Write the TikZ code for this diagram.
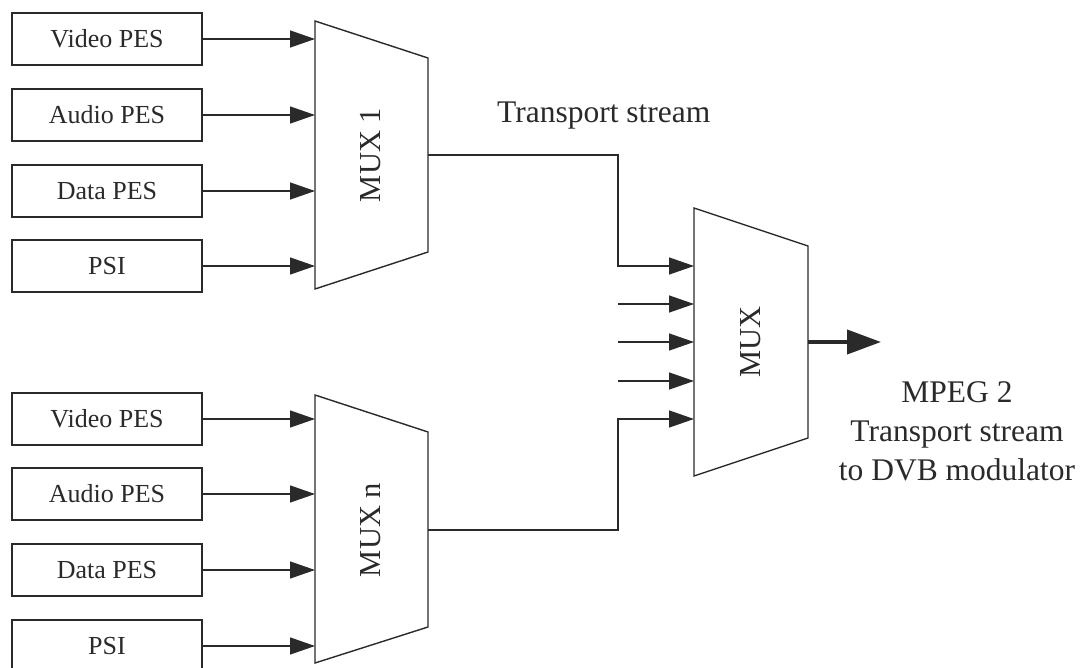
\documentclass[tikz,border=0pt]{standalone}
\usepackage{fontspec}
\setmainfont{Liberation Serif}
\usetikzlibrary{arrows.meta}
\definecolor{ink}{HTML}{2A2A2A}
\begin{document}
\begin{tikzpicture}[x=1pt,y=-1pt,
  every node/.style={text=ink},
  srcbox/.style={draw=ink,line width=1.4pt,minimum width=190pt,minimum height=52pt,inner sep=0pt,font=\fontsize{26}{30}\selectfont},
  muxshape/.style={draw=ink,line width=1.4pt,fill=white},
  arr/.style={draw=ink,line width=1.4pt,-{Triangle[length=25pt,width=17pt]}},
  link/.style={draw=ink,line width=1.4pt},
  bigarr/.style={draw=ink,line width=4pt,-{Triangle[length=34pt,width=24pt]}},
  muxlabel/.style={rotate=90,font=\fontsize{30.5}{34}\selectfont,inner sep=0pt},
  lbl/.style={font=\fontsize{31.5}{39}\selectfont,inner sep=0pt}]
\useasboundingbox (0,0) rectangle (1084,668);

% MUX 1 shape
\draw[muxshape] (315,21) -- (428,58) -- (428,252) -- (315,289) -- cycle;
\node[muxlabel] (mux1) at (371,155) {MUX 1};
% MUX n shape
\draw[muxshape] (315,395) -- (428,432) -- (428,627) -- (315,663) -- cycle;
\node[muxlabel] (muxn) at (371,530) {MUX n};
% final MUX shape
\draw[muxshape] (694,208) -- (808,246) -- (808,438) -- (694,476) -- cycle;
\node[muxlabel] (mux) at (751,342) {MUX};

% sources top
\node[srcbox] (v1) at (107,39) {Video PES};
\node[srcbox] (a1) at (107,115) {Audio PES};
\node[srcbox] (d1) at (107,191) {Data PES};
\node[srcbox] (p1) at (107,266) {PSI};
% sources bottom
\node[srcbox] (v2) at (107,419) {Video PES};
\node[srcbox] (a2) at (107,494) {Audio PES};
\node[srcbox] (d2) at (107,570) {Data PES};
\node[srcbox] (p2) at (107,646) {PSI};

% input points
\coordinate (m1i1) at (315,39);
\coordinate (m1i2) at (315,115);
\coordinate (m1i3) at (315,191);
\coordinate (m1i4) at (315,266);
\coordinate (mni1) at (315,419);
\coordinate (mni2) at (315,494);
\coordinate (mni3) at (315,570);
\coordinate (mni4) at (315,646);
\coordinate (m1out) at (428,155);
\coordinate (mnout) at (428,530);
\coordinate (b1) at (618,155);
\coordinate (b2) at (618,530);
\coordinate (mxi1) at (694,266);
\coordinate (mxi2) at (694,304);
\coordinate (mxi3) at (694,342);
\coordinate (mxi4) at (694,381);
\coordinate (mxi5) at (694,419);
\coordinate (s2) at (618,304);
\coordinate (s3) at (618,342);
\coordinate (s4) at (618,381);
\coordinate (mxout) at (808,342);
\coordinate (outend) at (881,342);

\draw[arr] (v1.east) -- (m1i1);
\draw[arr] (a1.east) -- (m1i2);
\draw[arr] (d1.east) -- (m1i3);
\draw[arr] (p1.east) -- (m1i4);
\draw[arr] (v2.east) -- (mni1);
\draw[arr] (a2.east) -- (mni2);
\draw[arr] (d2.east) -- (mni3);
\draw[arr] (p2.east) -- (mni4);

\draw[arr] (m1out) -- (b1) |- (mxi1);
\draw[arr] (mnout) -- (b2) |- (mxi5);
\draw[arr] (s2) -- (mxi2);
\draw[arr] (s3) -- (mxi3);
\draw[arr] (s4) -- (mxi4);
\draw[bigarr] (mxout) -- (outend);

\node[lbl,anchor=base west] (ts) at (497,123) {Transport stream};
\node[lbl,anchor=north,align=center] (out) at (957,381) {MPEG 2\\Transport stream\\to DVB modulator};
\end{tikzpicture}
\end{document}
